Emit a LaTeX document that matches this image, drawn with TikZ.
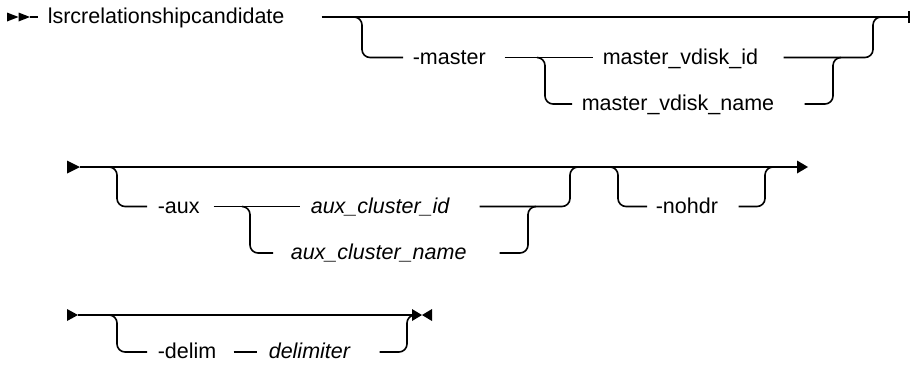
\documentclass[tikz,border=0pt]{standalone}
\usepackage{fontspec}
\setmainfont{Liberation Sans}
\begin{document}
\begin{tikzpicture}[x=1pt,y=-1pt,line width=1.6pt,
  rail/.style={draw,rounded corners=8pt},
  lbl/.style={anchor=west,inner xsep=#1,inner ysep=0pt,text height=13pt,text depth=0pt,align=left,font=\fontsize{21.5}{24}\selectfont},
  var/.style={font=\fontsize{21.5}{24}\selectfont\itshape},
  tipfill/.style={fill=black,draw=none}]
\useasboundingbox (0,0) rectangle (912,364);
% ---------- row 1 ----------
\fill[tipfill] (7,12.5) -- (18.5,17) -- (7,21.5) -- cycle;
\fill[tipfill] (18.5,12.5) -- (30,17) -- (18.5,21.5) -- cycle;
\coordinate (s1) at (30,17);
\coordinate (e1) at (909,17);
\node[lbl=9pt,text width=264pt] (cmd) at (38,17) {lsrcrelationshipcandidate};
\draw (s1) -- (cmd.west);
\draw (cmd.east) -- (e1);
\draw ([yshift=-6pt]e1) -- ([yshift=6pt]e1);
\node[lbl=9pt,text width=82pt] (master) at (403,57.5) {-master};
\draw[rail] (354,17) -- (362,17) -- (362,57.5) -- (master.west);
\node[lbl=9pt,text width=171pt] (mid) at (593,57.5) {master\_vdisk\_id};
\draw (master.east) -- (mid.west);
\node[lbl=9pt,text width=213pt] (mname) at (572,104) {master\_vdisk\_name};
\draw[rail] (537,57.5) -- (545,57.5) -- (545,104) -- (mname.west);
\draw[rail] (mid.east) -- (873,57.5) -- (873,17) -- (881,17);
\draw[rail] (mname.east) -- (833,104) -- (833,57.5) -- (841,57.5);
% ---------- row 2 ----------
\fill[tipfill] (67,160.5) -- (80,167) -- (67,173.5) -- cycle;
\coordinate (s2) at (80,167);
\coordinate (e2) at (798,167);
\draw (s2) -- (e2);
\fill[tipfill] (797,160.5) -- (808,167) -- (797,173.5) -- cycle;
\node[lbl=10pt,text width=45pt] (aux) at (147,206.5) {-aux};
\draw[rail] (109,167) -- (117,167) -- (117,206.5) -- (aux.west);
\node[lbl=10pt,var,text width=158pt] (auxid) at (300,206.5) {aux\_cluster\_id};
\draw (aux.east) -- (auxid.west);
\node[lbl=17pt,var,text width=191pt] (auxname) at (273,253) {aux\_cluster\_name};
\draw[rail] (242,206.5) -- (250,206.5) -- (250,253) -- (auxname.west);
\draw[rail] (auxid.east) -- (570,206.5) -- (570,167) -- (578,167);
\draw[rail] (auxname.east) -- (528,253) -- (528,206.5) -- (536,206.5);
\node[lbl=8pt,text width=74pt] (nohdr) at (647,206.5) {-nohdr};
\draw[rail] (610,167) -- (618,167) -- (618,206.5) -- (nohdr.west);
\draw[rail] (nohdr.east) -- (765,206.5) -- (765,167) -- (773,167);
% ---------- row 3 ----------
\fill[tipfill] (67,309) -- (78,315) -- (67,321) -- cycle;
\coordinate (s3) at (78,315);
\coordinate (e3) at (418,315);
\draw (s3) -- (e3);
\fill[tipfill] (412,309) -- (422,315) -- (412,321) -- cycle;
\fill[tipfill] (432,309) -- (422,315) -- (432,321) -- cycle;
\node[lbl=10pt,text width=65pt] (delim) at (147,352) {-delim};
\draw[rail] (109,315) -- (117,315) -- (117,352) -- (delim.west);
\node[lbl=11pt,var,text width=99pt] (dlm) at (257,352) {delimiter};
\draw (delim.east) -- (dlm.west);
\draw[rail] (dlm.east) -- (407,352) -- (407,315) -- (415,315);
\end{tikzpicture}
\end{document}
